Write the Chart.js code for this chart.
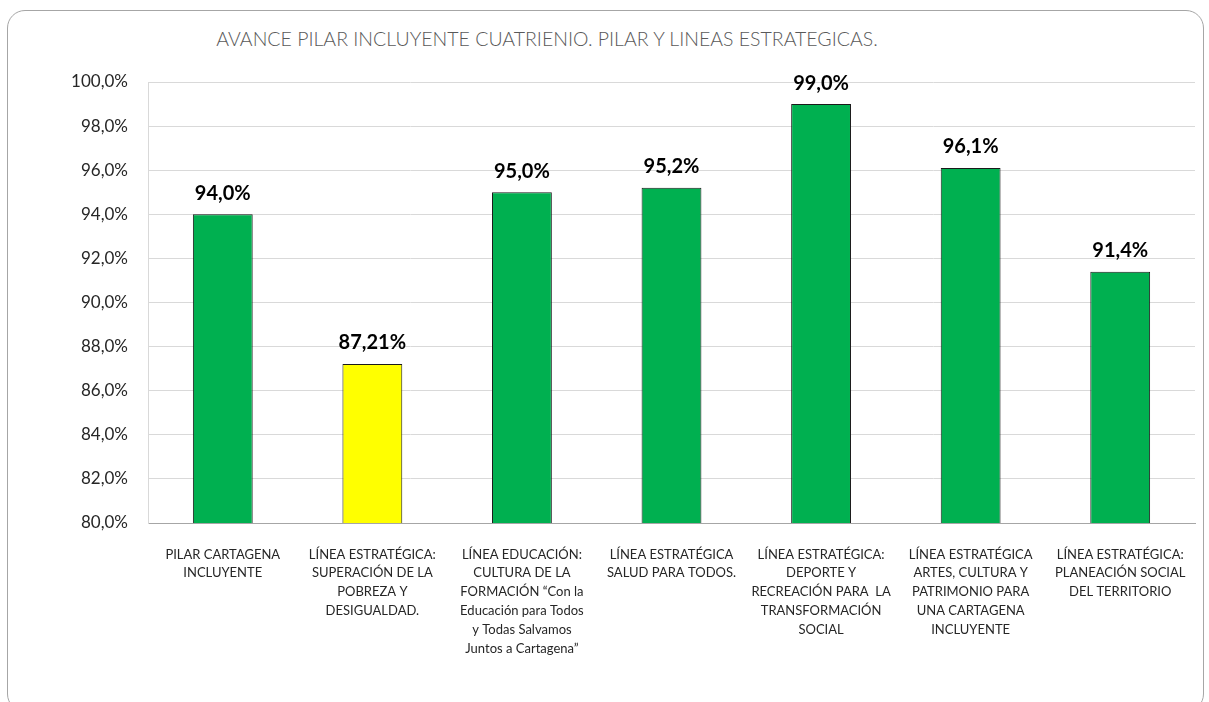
<!DOCTYPE html>
<html>
<head>
<meta charset="utf-8">
<title>Avance Pilar Incluyente</title>
<script src="https://cdn.jsdelivr.net/npm/chart.js@4/dist/chart.umd.min.js"></script>
<style>
  body { margin: 0; background: #fff; }
  #box { position: absolute; left: 7px; top: 10px; width: 1195px; height: 700px;
         border: 1px solid #a6a6a6; border-radius: 18px; }
  #title { position: absolute; left: 0; top: 27px; width: 1094px; text-align: center;
           font-family: Lato, sans-serif; font-weight: 300; font-size: 19.5px; color: #595959; }
  #wrap { position: absolute; left: 8px; top: 11px; width: 1194px; height: 690px; }
</style>
</head>
<body>
<div id="box"></div>
<div id="title">AVANCE PILAR INCLUYENTE CUATRIENIO. PILAR Y LINEAS ESTRATEGICAS.</div>
<div id="wrap"><canvas id="myChart"></canvas></div>
<script>
// data
var categories = [
  ['PILAR CARTAGENA', 'INCLUYENTE'],
  ['LÍNEA ESTRATÉGICA:', 'SUPERACIÓN DE LA', 'POBREZA Y', 'DESIGUALDAD.'],
  ['LÍNEA EDUCACIÓN:', 'CULTURA DE LA', 'FORMACIÓN “Con la', 'Educación para Todos', 'y Todas Salvamos', 'Juntos a Cartagena”'],
  ['LÍNEA ESTRATÉGICA', 'SALUD PARA TODOS.'],
  ['LÍNEA ESTRATÉGICA:', 'DEPORTE Y', 'RECREACIÓN PARA  LA', 'TRANSFORMACIÓN', 'SOCIAL'],
  ['LÍNEA ESTRATÉGICA', 'ARTES, CULTURA Y', 'PATRIMONIO PARA', 'UNA CARTAGENA', 'INCLUYENTE'],
  ['LÍNEA ESTRATÉGICA:', 'PLANEACIÓN SOCIAL', 'DEL TERRITORIO']
];
var avance = [94.0, 87.21, 95.0, 95.2, 99.0, 96.1, 91.4];
var avanceLabels = ['94,0%', '87,21%', '95,0%', '95,2%', '99,0%', '96,1%', '91,4%'];
var yMin = 80, yMax = 100, yStep = 2;

var barColors = ['#00B050', '#FFFF00', '#00B050', '#00B050', '#00B050', '#00B050', '#00B050'];

// etiquetas encima de las barras
var valueLabels = {
  id: 'valueLabels',
  afterDatasetsDraw: function (chart) {
    var ctx = chart.ctx;
    var meta = chart.getDatasetMeta(0);
    ctx.save();
    ctx.font = 'bold 20px Lato';
    ctx.fillStyle = '#000';
    ctx.textAlign = 'center';
    ctx.textBaseline = 'bottom';
    meta.data.forEach(function (bar, i) {
      ctx.fillText(avanceLabels[i], bar.x, bar.y - 11);
    });
    ctx.restore();
  }
};

var ctx = document.getElementById('myChart').getContext('2d');
var myChart = new Chart(ctx, {
  type: 'bar',
  data: {
    labels: categories,
    datasets: [{
      data: avance,
      backgroundColor: barColors,
      borderColor: '#1a1a1a',
      borderWidth: 1,
      barPercentage: 0.4,
      categoryPercentage: 1.0
    }]
  },
  options: {
    responsive: true,
    maintainAspectRatio: false,
    animation: false,
    layout: { padding: { top: 71, right: 7, left: 0, bottom: 0 } },
    plugins: {
      legend: { display: false },
      tooltip: { enabled: false }
    },
    scales: {
      x: {
        grid: { display: false },
        border: { display: true, color: '#a6a6a6' },
        ticks: {
          autoSkip: false, maxRotation: 0, minRotation: 0, padding: 14,
          color: '#262626',
          font: { family: 'Lato', size: 13, lineHeight: 1.45 }
        },
        afterFit: function (scale) { scale.height = 178; }
      },
      y: {
        min: yMin,
        max: yMax,
        grid: { color: '#d9d9d9', drawTicks: false },
        border: { display: true, color: '#d9d9d9' },
        ticks: {
          stepSize: yStep, padding: 20, color: '#262626',
          font: { family: 'Lato', size: 17 },
          callback: function (v) { return v.toFixed(1).replace('.', ',') + '%'; }
        },
        afterFit: function (scale) { scale.width = 140; }
      }
    }
  },
  plugins: [valueLabels]
});
</script>
</body>
</html>
